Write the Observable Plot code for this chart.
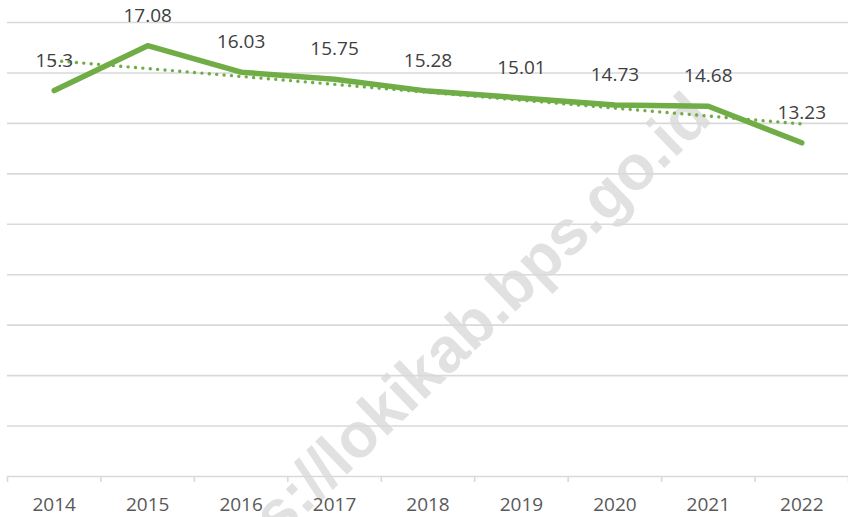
<!DOCTYPE html>
<html>
<head>
<meta charset="utf-8">
<script src="https://cdn.jsdelivr.net/npm/d3@7"></script>
<script src="https://cdn.jsdelivr.net/npm/@observablehq/plot@0.6"></script>
<style>
  html, body { margin: 0; padding: 0; background: #ffffff; }
  #wrap { position: relative; width: 848px; height: 517px; overflow: hidden; }
  #wm { position: absolute; left: 0; top: 0; z-index: 0; }
  #chart { position: absolute; left: 0; top: 0; z-index: 1; }
</style>
</head>
<body>
<div id="wrap">
  <svg id="wm" width="848" height="517">
    <text x="714" y="120" text-anchor="end" transform="rotate(-44 714 120)"
      font-family="Liberation Sans, Arial, sans-serif" font-weight="bold" font-size="63" fill="#e1e1e1">https://lokikab.bps.go.id</text>
  </svg>
  <div id="chart"></div>
</div>
<script>
const years = [2014, 2015, 2016, 2017, 2018, 2019, 2020, 2021, 2022];
const values = [15.3, 17.08, 16.03, 15.75, 15.28, 15.01, 14.73, 14.68, 13.23];
const labels = ["15.3", "17.08", "16.03", "15.75", "15.28", "15.01", "14.73", "14.68", "13.23"];
const yTicks = [0, 2, 4, 6, 8, 10, 12, 14, 16, 18];
const xBoundaries = [2013.5, 2014.5, 2015.5, 2016.5, 2017.5, 2018.5, 2019.5, 2020.5, 2021.5, 2022.5];

const data = years.map((year, i) => ({year, value: values[i], label: labels[i]}));

const green = "#70ad47";
const font = "'Open Sans', 'Noto Sans', sans-serif";

const chart = Plot.plot({
  width: 848,
  height: 517,
  marginTop: 22,
  marginBottom: 41,
  marginLeft: 7,
  marginRight: 0,
  style: {background: "transparent", fontFamily: font},
  x: {domain: [2013.5, 2022.5], axis: null},
  y: {domain: [0, 18], axis: null},
  marks: [
    Plot.gridY(yTicks, {stroke: "#d9d9d9", strokeOpacity: 1, strokeWidth: 1.6}),
    Plot.axisX(xBoundaries, {tickSize: 6, tickFormat: () => "", label: null, stroke: "#d9d9d9", strokeWidth: 1.6}),
    Plot.axisX(years, {tickSize: 0, tickPadding: 21, label: null, tickFormat: d => String(d), fontSize: 19, fill: "#595959", fontFamily: font}),
    Plot.lineY(data, {x: "year", y: "value", stroke: green, strokeWidth: 5.5, strokeLinecap: "round", strokeLinejoin: "round"}),
    Plot.linearRegressionY(data, {x: "year", y: "value", stroke: green, strokeWidth: 3.4, strokeDasharray: "0.01,7.4", strokeLinecap: "round", ci: 0}),
    Plot.text(data, {x: "year", y: "value", text: "label", dy: -30, fontSize: 19, fill: "#404040", fontFamily: font})
  ]
});
document.getElementById("chart").appendChild(chart);
</script>
</body>
</html>
